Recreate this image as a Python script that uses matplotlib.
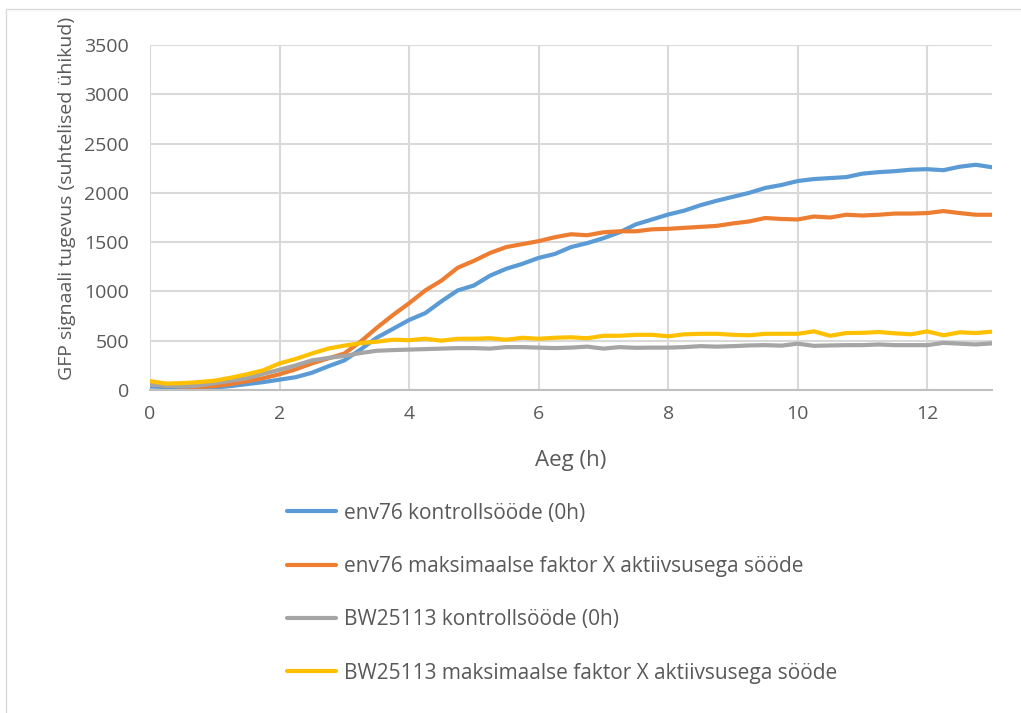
import numpy as np
import matplotlib.pyplot as plt
from matplotlib.patches import Rectangle

plt.rcParams['font.family'] = ['Open Sans', 'DejaVu Sans']

# Time points, every 15 minutes
aeg = np.arange(0, 13.01, 0.25)

env76_kontroll = [35, 30, 25, 20, 25, 40, 60, 80, 105, 130, 175, 240, 300, 410, 530, 620,
                  710, 780, 900, 1010, 1060, 1160, 1230, 1280, 1340, 1380, 1450, 1490, 1540,
                  1600, 1680, 1730, 1780, 1820, 1875, 1920, 1960, 2000, 2050, 2080, 2120,
                  2140, 2150, 2160, 2195, 2210, 2220, 2235, 2240, 2230, 2265, 2285, 2260]
env76_faktor = [55, 45, 35, 30, 40, 60, 90, 120, 160, 210, 270, 320, 370, 490, 630, 760,
                880, 1010, 1110, 1240, 1310, 1390, 1450, 1480, 1510, 1550, 1580, 1570, 1600,
                1610, 1610, 1630, 1635, 1645, 1655, 1665, 1690, 1710, 1745, 1735, 1730,
                1760, 1750, 1778, 1770, 1778, 1790, 1790, 1795, 1815, 1795, 1778, 1778]
bw_kontroll = [55, 45, 35, 45, 70, 95, 120, 165, 205, 250, 300, 325, 345, 375, 398, 405,
               410, 415, 420, 425, 425, 420, 435, 435, 430, 425, 430, 440, 420, 435, 428,
               430, 430, 435, 445, 440, 445, 452, 455, 450, 470, 448, 452, 455, 455, 462,
               455, 455, 455, 478, 470, 462, 473]
bw_faktor = [90, 65, 70, 80, 95, 125, 160, 200, 270, 315, 370, 420, 450, 475, 490, 510,
             505, 520, 500, 520, 520, 525, 510, 530, 520, 530, 535, 525, 550, 550, 560,
             560, 545, 565, 570, 570, 560, 555, 570, 570, 570, 595, 550, 578, 580, 588,
             575, 565, 595, 555, 585, 578, 592]

seeria = [
    (env76_kontroll, '#5b9bd5', 'env76 kontrollsööde (0h)'),
    (env76_faktor, '#ed7d31', 'env76 maksimaalse faktor X aktiivsusega sööde'),
    (bw_kontroll, '#a5a5a5', 'BW25113 kontrollsööde (0h)'),
    (bw_faktor, '#ffc000', 'BW25113 maksimaalse faktor X aktiivsusega sööde'),
]

tekst = '#595959'

fig = plt.figure(figsize=(10.21, 7.13), dpi=100)
ax = fig.add_axes([150 / 1021, 1 - 390 / 713, 842 / 1021, 345 / 713])

for y, c, nimi in seeria:
    ax.plot(aeg, y, color=c, lw=3, label=nimi, solid_capstyle='round')

ax.set_xlim(0, 13)
ax.set_ylim(0, 3500)
ax.set_xticks(range(0, 13, 2))
ax.set_yticks(range(0, 3501, 500))
ax.grid(True, color='#d9d9d9', lw=1.5)
ax.set_axisbelow(True)
for s in ['top', 'right', 'left']:
    ax.spines[s].set_visible(False)
ax.spines['bottom'].set_color('#bfbfbf')
ax.spines['bottom'].set_linewidth(1.5)
ax.tick_params(length=0, labelsize=14, colors=tekst)
ax.tick_params(axis='y', pad=15)
ax.tick_params(axis='x', pad=11)
ax.set_xlabel('Aeg (h)', fontsize=16, color=tekst, labelpad=19)
ax.set_ylabel('GFP signaali tugevus (suhtelised ühikud)', fontsize=14, color=tekst)
ax.yaxis.set_label_coords(-0.088, 0.555)

fig.legend(loc='upper left', bbox_to_anchor=(268 / 1021, 1 - 484 / 713), frameon=False,
           fontsize=15, labelcolor=tekst, handlelength=2.35, handletextpad=0.4,
           labelspacing=1.55)

# chart border
fig.patches.append(Rectangle((6 / 1021, -0.1), 1.2, 1.1 - 9 / 713, transform=fig.transFigure,
                             fill=False, edgecolor='#d9d9d9', lw=1))

fig.savefig('out.png', dpi=100)
